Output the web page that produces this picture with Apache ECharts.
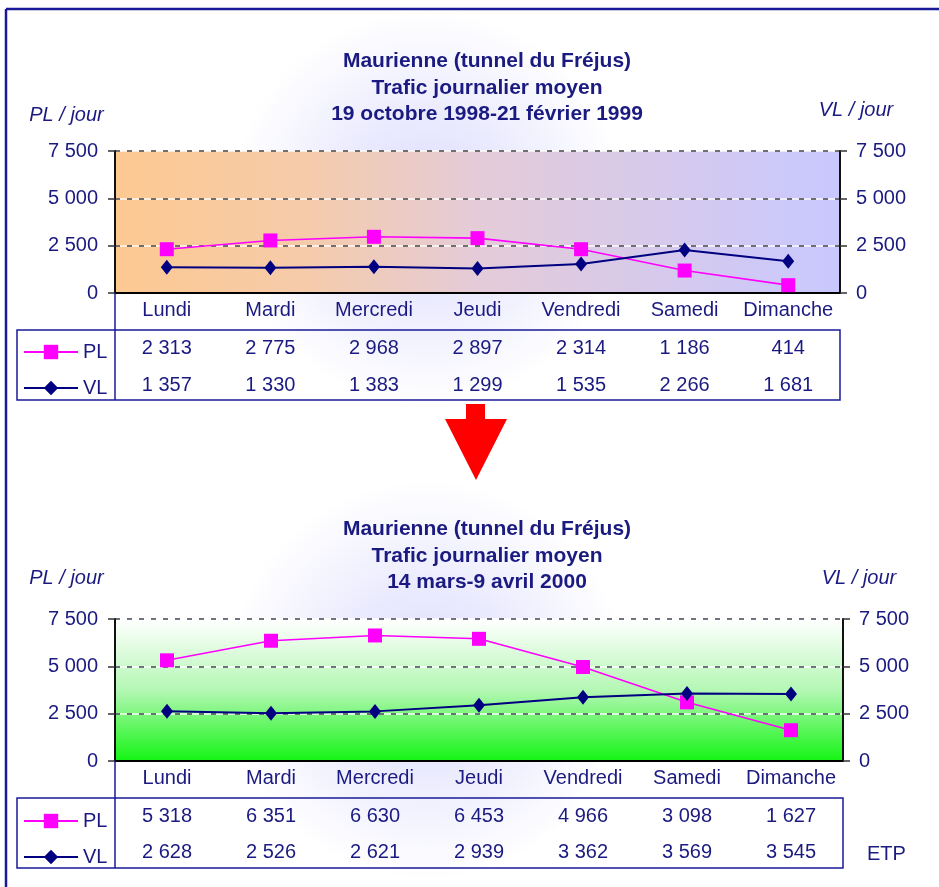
<!DOCTYPE html>
<html>
<head>
<meta charset="utf-8">
<style>html,body{margin:0;padding:0;background:#fff}#c{width:939px;height:887px}</style>
<script src="https://cdn.jsdelivr.net/npm/echarts@6/dist/echarts.min.js"></script>
</head>
<body>
<div id="c"></div>
<script>
const categories = ['Lundi', 'Mardi', 'Mercredi', 'Jeudi', 'Vendredi', 'Samedi', 'Dimanche'];
const pl1999 = [2313, 2775, 2968, 2897, 2314, 1186, 414];
const vl1999 = [1357, 1330, 1383, 1299, 1535, 2266, 1681];
const pl2000 = [5318, 6351, 6630, 6453, 4966, 3098, 1627];
const vl2000 = [2628, 2526, 2621, 2939, 3362, 3569, 3545];
const title1999 = 'Maurienne (tunnel du Fréjus)\nTrafic journalier moyen\n19 octobre 1998-21 février 1999';
const title2000 = 'Maurienne (tunnel du Fréjus)\nTrafic journalier moyen\n14 mars-9 avril 2000';
const yTicks = [0, 2500, 5000, 7500];

const NAVY = '#1a1a80';
const BORDER = '#1a1a99';
const FONT = 'Liberation Sans, Arial, sans-serif';
const fmt = n => String(n).replace(/\B(?=(\d{3})+(?!\d))/g, ' ');

const chart = echarts.init(document.getElementById('c'), null, {renderer: 'canvas'});

function yAx(gridIndex, pos, name, nameGap, nameStyleExtra, dashedColor) {
  const left = pos === 'left';
  return {
    type: 'value', gridIndex, position: pos, min: yTicks[0], max: yTicks[yTicks.length - 1], interval: 2500,
    name, nameLocation: 'end', nameGap,
    nameTextStyle: Object.assign({fontFamily: FONT, fontSize: 20, fontStyle: 'italic', color: NAVY, verticalAlign: 'middle'}, nameStyleExtra),
    axisLine: {show: true, lineStyle: {color: '#111', width: 2}},
    axisTick: {show: true, length: 7, lineStyle: {color: '#333', width: 1.5}},
    axisLabel: {margin: left ? 17 : 16, fontFamily: FONT, fontSize: 20, color: NAVY, formatter: v => fmt(v)},
    splitLine: left
      ? {show: true, lineStyle: {color: 'rgba(255,255,255,0.9)', width: 1.5, type: 'solid'}}
      : {show: true, lineStyle: {color: dashedColor, width: 1.5, type: [5, 7]}}
  };
}

function catAx(gridIndex, data, margin, showLine) {
  return {
    type: 'category', gridIndex, position: 'bottom', data, boundaryGap: true,
    axisLine: {show: showLine, onZero: false, lineStyle: {color: '#000', width: 2}},
    axisTick: {show: false},
    splitLine: {show: false},
    axisLabel: {margin, fontFamily: FONT, fontSize: 20, color: NAVY, interval: 0}
  };
}

function lineSeries(name, data, xi, yi, isPL) {
  return {
    type: 'line', name, data, xAxisIndex: xi, yAxisIndex: yi,
    symbol: isPL ? 'rect' : 'diamond',
    symbolSize: isPL ? 14 : [12, 15],
    showAllSymbol: true,
    itemStyle: {color: isPL ? '#ff00ff' : '#000080'},
    lineStyle: {color: isPL ? '#ff00ff' : '#000080', width: isPL ? 1.6 : 2},
    z: isPL ? 3 : 4,
    animation: false
  };
}

function legendAt(top) {
  return {
    orient: 'vertical', left: 23, top, padding: 0, itemWidth: 54, itemHeight: 18, itemGap: 16,
    selectedMode: false, data: ['PL', 'VL'],
    textStyle: {fontFamily: FONT, fontSize: 20, color: NAVY, lineHeight: 20}
  };
}

function bgGlow(y, h) {
  return {
    type: 'rect', z: -10, silent: true,
    shape: {x: 8, y, width: 931, height: h},
    style: {fill: {type: 'radial', x: 0.45, y: 0.5, r: 0.5,
      colorStops: [{offset: 0, color: '#dadaff'}, {offset: 0.5, color: '#ececfe'}, {offset: 1, color: '#ffffff'}]}}
  };
}

const option = {
  backgroundColor: '#ffffff',
  animation: false,
  textStyle: {fontFamily: FONT},
  title: [
    {text: title1999, left: 487, top: 48, padding: 0, textAlign: 'center',
     textStyle: {fontFamily: FONT, fontSize: 21, fontWeight: 'bold', color: NAVY, lineHeight: 26.5}},
    {text: title2000, left: 487, top: 516, padding: 0, textAlign: 'center',
     textStyle: {fontFamily: FONT, fontSize: 21, fontWeight: 'bold', color: NAVY, lineHeight: 26.5}}
  ],
  legend: [legendAt(342), legendAt(811)],
  grid: [
    {left: 115, top: 151, width: 725, height: 142, show: true, borderWidth: 0,
     backgroundColor: {type: 'linear', x: 0, y: 0, x2: 1, y2: 0,
       colorStops: [{offset: 0, color: '#fdc992'}, {offset: 0.25, color: '#f6cba8'}, {offset: 0.5, color: '#e4cbd8'}, {offset: 1, color: '#c8c8ff'}]}},
    {left: 115, top: 619, width: 728, height: 142, show: true, borderWidth: 0,
     backgroundColor: {type: 'linear', x: 0, y: 0, x2: 0, y2: 1,
       colorStops: [{offset: 0, color: '#ffffff'}, {offset: 0.5, color: '#b4f7b4'}, {offset: 1, color: '#14f514'}]}}
  ],
  xAxis: [
    catAx(0, categories, 7, true),
    catAx(0, pl1999.map(fmt), 45, false),
    catAx(0, vl1999.map(fmt), 82, false),
    catAx(1, categories, 7.5, true),
    catAx(1, pl2000.map(fmt), 45, false),
    catAx(1, vl2000.map(fmt), 81.5, false)
  ],
  yAxis: [
    yAx(0, 'left', 'PL / jour', 36, {align: 'center', padding: [0, 97, 0, 0]}, '#444'),
    yAx(0, 'right', 'VL / jour', 41, {align: 'center', padding: [0, 0, 0, 32]}, '#444'),
    yAx(1, 'left', 'PL / jour', 41, {align: 'center', padding: [0, 97, 0, 0]}, '#445'),
    yAx(1, 'right', 'VL / jour', 41, {align: 'center', padding: [0, 0, 0, 32]}, '#445')
  ],
  series: [
    lineSeries('PL', pl1999, 0, 0, true),
    lineSeries('VL', vl1999, 0, 1, false),
    lineSeries('PL', pl2000, 3, 2, true),
    lineSeries('VL', vl2000, 3, 3, false)
  ],
  graphic: [
    bgGlow(10, 395),
    bgGlow(480, 400),
    {type: 'line', silent: true, z: 5, shape: {x1: 6, y1: 9, x2: 939, y2: 9}, style: {stroke: BORDER, lineWidth: 2.5}},
    {type: 'line', silent: true, z: 5, shape: {x1: 6, y1: 9, x2: 6, y2: 887}, style: {stroke: BORDER, lineWidth: 2.5}},
    {type: 'rect', silent: true, z: 5, shape: {x: 17, y: 330, width: 823, height: 70}, style: {fill: 'none', stroke: BORDER, lineWidth: 1.5}},
    {type: 'line', silent: true, z: 5, shape: {x1: 115, y1: 293, x2: 115, y2: 400}, style: {stroke: BORDER, lineWidth: 1.5}},
    {type: 'rect', silent: true, z: 5, shape: {x: 17, y: 798, width: 826, height: 70}, style: {fill: 'none', stroke: BORDER, lineWidth: 1.5}},
    {type: 'line', silent: true, z: 5, shape: {x1: 115, y1: 761, x2: 115, y2: 868}, style: {stroke: BORDER, lineWidth: 1.5}},
    {type: 'polygon', silent: true, z: 5,
     shape: {points: [[466, 404], [485, 404], [485, 419], [507, 419], [476, 480], [445, 419], [466, 419]]},
     style: {fill: '#ff0000'}},
    {type: 'text', silent: true, z: 5, x: 867, y: 854,
     style: {text: 'ETP', fontFamily: FONT, fontSize: 20, fill: NAVY, verticalAlign: 'middle', align: 'left'}}
  ]
};
chart.setOption(option);
</script>
</body>
</html>
